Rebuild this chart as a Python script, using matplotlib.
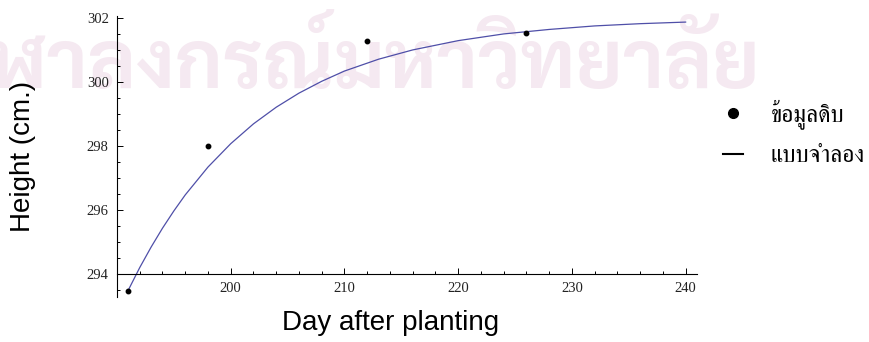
import matplotlib
matplotlib.use("Agg")
import matplotlib.pyplot as plt
from matplotlib import font_manager
from matplotlib.ft2font import FT2Font
from matplotlib.lines import Line2D
from matplotlib.ticker import MultipleLocator

# raw measurements (day, height)
obs_day = [191, 198, 212, 226]
obs_height = [293.47, 298.0, 301.28, 301.53]

# model curve
model_day = [191, 192, 193, 194, 195, 196, 198, 200, 202, 204, 206, 208,
             210, 213, 216, 220, 224, 228, 232, 236, 240]
model_height = [293.50, 294.20, 294.84, 295.43, 295.97, 296.47, 297.34,
                298.07, 298.69, 299.21, 299.65, 300.02, 300.34, 300.71,
                301.00, 301.29, 301.50, 301.64, 301.75, 301.82, 301.87]

x_ticks = [200, 210, 220, 230, 240]
y_ticks = [294, 296, 298, 300, 302]

legend_labels = ["ข้อมูลดิบ", "แบบจำลอง"]
watermark = "จุฬาลงกรณ์มหาวิทยาลัย"


def thai_families():
    found = []
    for f in font_manager.fontManager.ttflist:
        try:
            if ord("ก") in FT2Font(f.fname).get_charmap():
                if f.name not in found:
                    found.append(f.name)
        except Exception:
            pass
    return found


def pick(prefs, avail):
    for p in prefs:
        if p in avail:
            return p
    return avail[0] if avail else "DejaVu Sans"


thai = thai_families()
wm_font = pick(["Laksaman", "Sarabun", "Loma"], thai)
leg_font = pick(["Laksaman", "Norasi", "Kinnari", "FreeSerif", "Loma"], thai)

fig = plt.figure(figsize=(8.7, 3.42), dpi=100)
ax = fig.add_axes([117 / 870, 1 - 297 / 342, 580 / 870, 281 / 342])
ax.patch.set_alpha(0)

# faded watermark behind the plot
fig.text(760 / 870, 1 - 62 / 342, watermark, family=[wm_font, "DejaVu Sans"],
         fontsize=58, color="#f5e9f1", ha="right", va="center", zorder=-1,
         fontweight="bold")

ax.plot(model_day, model_height, color="#4f4fa8", lw=0.9)
ax.plot(obs_day, obs_height, "o", color="black", ms=3.2)

ax.set_xlim(190, 241)
ax.set_ylim(293.28, 302.06)
ax.spines["top"].set_visible(False)
ax.spines["right"].set_visible(False)
ax.spines["bottom"].set_position(("data", 294))
for s in ("left", "bottom"):
    ax.spines[s].set_linewidth(0.8)

ax.set_xticks(x_ticks)
ax.set_yticks(y_ticks)
ax.xaxis.set_minor_locator(MultipleLocator(2))
ax.yaxis.set_minor_locator(MultipleLocator(0.5))
ax.tick_params(which="both", direction="in", width=0.7, colors="black",
               labelcolor="#222222", labelsize=10.5)
ax.tick_params(which="major", length=4, pad=6)
ax.tick_params(which="minor", length=2.2)
for lab in ax.get_xticklabels() + ax.get_yticklabels():
    lab.set_family("Liberation Serif")

fig.text(391 / 870, 1 - 323 / 342, "Day after planting", family="Liberation Sans",
         fontsize=20, ha="center", va="center")
fig.text(23 / 870, 1 - 156 / 342, "Height (cm.)", family="Liberation Sans",
         fontsize=20, ha="center", va="center", rotation=90)

handles = [Line2D([], [], marker="o", ls="none", color="black", ms=7),
           Line2D([], [], color="black", lw=1.5)]
fig.legend(handles, legend_labels, loc="center left",
           bbox_to_anchor=(702 / 870, 1 - 133 / 342), frameon=False,
           prop={"family": [leg_font, "DejaVu Sans"], "size": 17},
           handlelength=0.85, labelspacing=0.7, handletextpad=1.15)

fig.savefig("out.png", dpi=100)
